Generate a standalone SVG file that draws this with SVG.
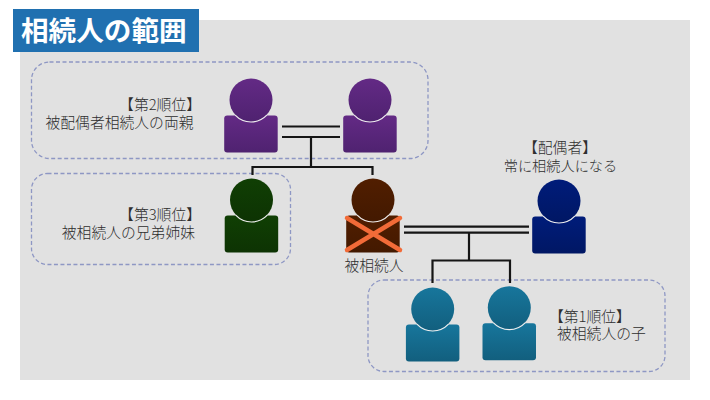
<svg xmlns="http://www.w3.org/2000/svg" width="710" height="400" viewBox="0 0 710 400">
<style>
text{font-family:"Noto Sans CJK JP","Noto Sans CJK SC",sans-serif;font-size:14.8px;fill:#2e2e2e;font-weight:300}
.e{text-anchor:end}.m{text-anchor:middle}
.t{font-size:27.6px;font-weight:700;fill:#fff}
.g{fill:none;stroke:#8e97c4;stroke-width:1.3;stroke-dasharray:4 2.5}
.c path{fill:none;stroke:#151515;stroke-width:2.2}
.h{stroke:#eee;stroke-width:1.2;fill:none}
.x{stroke:#f26b38;stroke-width:4.5;stroke-linecap:round}
</style>
<defs>
<linearGradient id="pu" x1="0" y1="0" x2="0" y2="1"><stop offset="0" stop-color="#632a85"/><stop offset="1" stop-color="#4f2270"/></linearGradient>
<linearGradient id="gr" x1="0" y1="0" x2="0" y2="1"><stop offset="0" stop-color="#103f04"/><stop offset="1" stop-color="#0d3303"/></linearGradient>
<linearGradient id="br" x1="0" y1="0" x2="0" y2="1"><stop offset="0" stop-color="#511e00"/><stop offset="1" stop-color="#431900"/></linearGradient>
<linearGradient id="na" x1="0" y1="0" x2="0" y2="1"><stop offset="0" stop-color="#001c7a"/><stop offset="1" stop-color="#001764"/></linearGradient>
<linearGradient id="te" x1="0" y1="0" x2="0" y2="1"><stop offset="0" stop-color="#17769c"/><stop offset="1" stop-color="#125f7e"/></linearGradient>
<g id="p"><rect x="-26.800" y="15.500" width="53.500" height="37" rx="3"/><circle cx="0" cy="0" r="21.500"/><path class="h" d="M-15.800 15.200A21.800 21.800 0 0 0 15.800 15.200"/></g>
</defs>
<rect width="710" height="400" fill="#fff"/>
<rect id="panel" x="20" y="20" width="670" height="360" fill="#e1e1e1"/>
<g id="title"><rect x="13" y="9" width="186" height="43" fill="#2070b0"/><text class="t" x="21" y="41">相続人の範囲</text></g>
<g id="groups">
<rect class="g" x="31.500" y="62" width="396.500" height="96.500" rx="18"/>
<rect class="g" x="31.500" y="173.500" width="259" height="91" rx="16"/>
<rect class="g" x="368" y="280" width="297" height="91.500" rx="16"/>
</g>
<g id="connectors" class="c">
<path d="M282 126.500H340M282 137H340M311 137V167M252.500 175V167H372.500V175"/>
<path d="M404 226.700H529M404 232.700H529M469 233V260.500M432.500 283V260.500H510V283"/>
</g>
<g id="parent1" fill="url(#pu)"><use href="#p" x="251" y="100"/></g>
<g id="parent2" fill="url(#pu)"><use href="#p" x="370" y="100"/></g>
<g id="sibling" fill="url(#gr)"><use href="#p" x="251.500" y="200"/></g>
<g id="deceased" fill="url(#br)"><use href="#p" x="373" y="200"/>
<path class="x" d="M347 218L400 250M400 218L347 250" fill="none"/>
<text class="m" x="374" y="271">被相続人</text></g>
<g id="spouse" fill="url(#na)"><use href="#p" x="559" y="201"/></g>
<g id="child1" fill="url(#te)"><use href="#p" x="432.700" y="309"/></g>
<g id="child2" fill="url(#te)"><use href="#p" x="509.300" y="307.700"/></g>
<g id="label2"><text class="e" x="201" y="110">【第2順位】</text><text class="e" x="193.500" y="128">被配偶者相続人の両親</text></g>
<g id="label3"><text class="e" x="201" y="220">【第3順位】</text><text class="e" x="195" y="238">被相続人の兄弟姉妹</text></g>
<g id="labelS"><text class="m" x="560" y="153">【配偶者】</text><text class="m" x="560.500" y="171" style="font-size:14.200px">常に相続人になる</text></g>
<g id="label1"><text x="549" y="322">【第1順位】</text><text x="557" y="339">被相続人の子</text></g>
</svg>
